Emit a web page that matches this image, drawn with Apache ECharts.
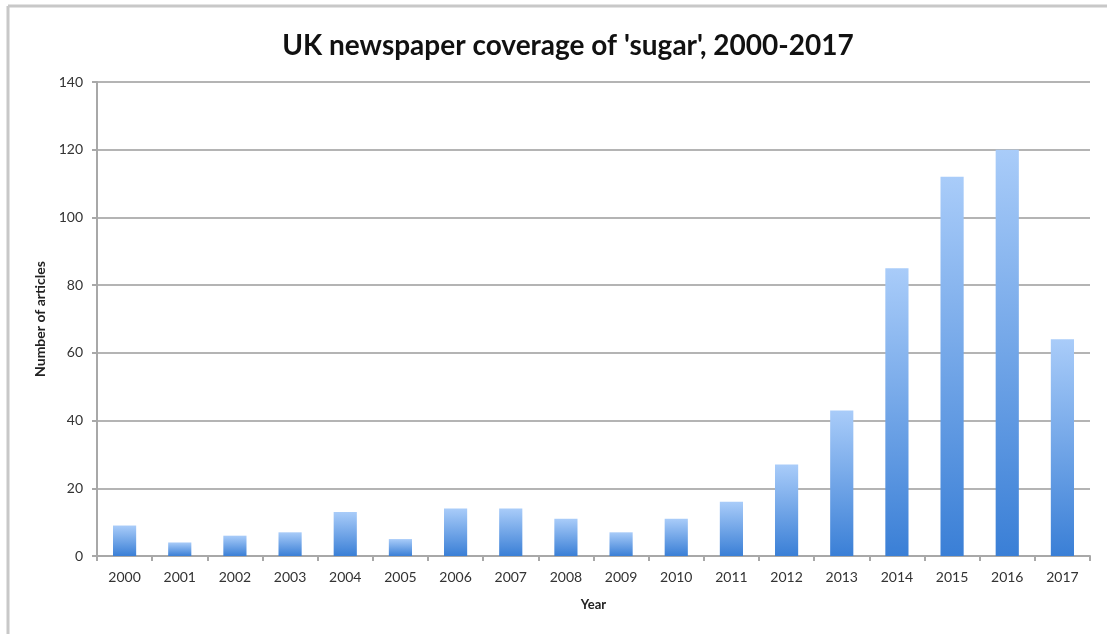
<!DOCTYPE html>
<html>
<head>
<meta charset="utf-8">
<script src="https://cdn.jsdelivr.net/npm/echarts@6/dist/echarts.min.js"></script>
<style>
  html, body { margin: 0; padding: 0; background: #fff; }
  #chart { width: 1107px; height: 634px; }
</style>
</head>
<body>
<div id="chart"></div>
<script>
// data
var years = ['2000','2001','2002','2003','2004','2005','2006','2007','2008',
             '2009','2010','2011','2012','2013','2014','2015','2016','2017'];
var articles = [9, 4, 6, 7, 13, 5, 14, 14, 11, 7, 11, 16, 27, 43, 85, 112, 120, 64];

var myChart = echarts.init(document.getElementById('chart'));

var font = 'Lato, "Open Sans", sans-serif';

var option = {
    backgroundColor: '#fff',
    animation: false,
    title: {
        text: "UK newspaper coverage of 'sugar', 2000-2017",
        left: 563,
        textAlign: 'center',
        top: 27,
        textStyle: { fontFamily: font, fontSize: 28, fontWeight: 'bold', color: '#111' }
    },
    graphic: [
        { type: 'line', shape: { x1: 8, y1: 6, x2: 1107, y2: 6 }, style: { stroke: '#c8c8c8', lineWidth: 3 } },
        { type: 'line', shape: { x1: 8, y1: 6, x2: 8, y2: 634 }, style: { stroke: '#c8c8c8', lineWidth: 3 } }
    ],
    grid: { left: 97, right: 17, top: 82, bottom: 78 },
    xAxis: {
        type: 'category',
        data: years,
        name: 'Year',
        nameLocation: 'middle',
        nameGap: 42,
        nameTextStyle: { fontFamily: font, fontSize: 13, fontWeight: 'bold', color: '#222' },
        axisLine: { lineStyle: { color: '#a8a8a8', width: 2 } },
        axisTick: { show: true, length: 5, lineStyle: { color: '#a8a8a8', width: 2 } },
        axisLabel: { fontFamily: font, fontSize: 14, color: '#333', margin: 14 }
    },
    yAxis: {
        type: 'value',
        min: 0,
        max: 140,
        interval: 20,
        name: 'Number of articles',
        nameLocation: 'middle',
        nameGap: 47,
        nameRotate: 90,
        nameTextStyle: { fontFamily: font, fontSize: 14, fontWeight: 'bold', color: '#222' },
        axisLine: { show: true, lineStyle: { color: '#a8a8a8', width: 2 } },
        axisTick: { show: true, length: 5, lineStyle: { color: '#a8a8a8', width: 2 } },
        axisLabel: { fontFamily: font, fontSize: 14, color: '#333', margin: 14 },
        splitLine: { lineStyle: { color: '#b4b4b4', width: 2 } }
    },
    series: [{
        type: 'bar',
        data: articles,
        barWidth: '42%',
        itemStyle: {
            color: new echarts.graphic.LinearGradient(0, 0, 0, 1, [
                { offset: 0, color: '#a9ccf9' },
                { offset: 1, color: '#3a7fd6' }
            ])
        }
    }]
};

myChart.setOption(option);
</script>
</body>
</html>
